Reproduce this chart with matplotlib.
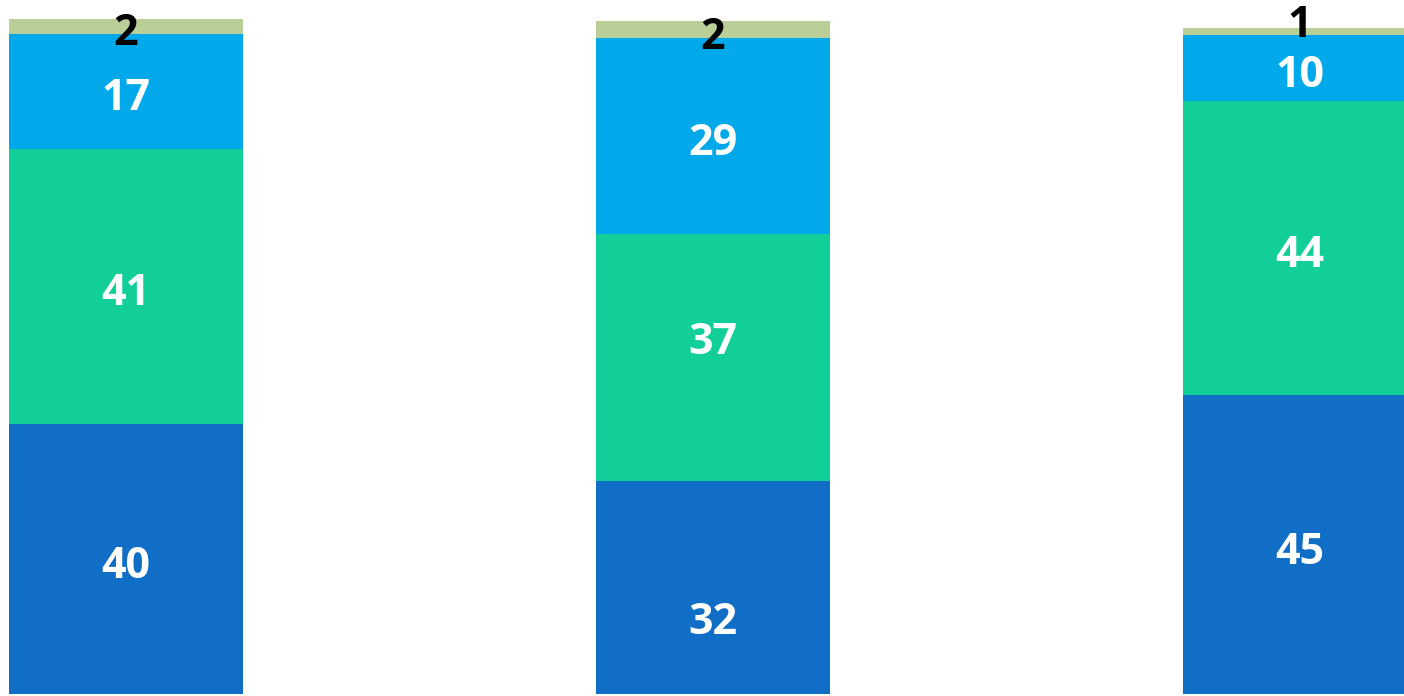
import numpy as np
import matplotlib.pyplot as plt

# Segment values per bar (bottom -> top)
categories = ['A', 'B', 'C']
seg_dark = [40.3, 31.7, 44.6]
seg_green = [40.9, 36.9, 43.7]
seg_light = [17.2, 29.2, 9.9]
seg_khaki = [2.2, 2.4, 1.0]

colors = ['#106EC6', '#12CF9A', '#02A9EA', '#BACF98']
label_colors = ['white', 'white', 'white', 'black']
# the source nudged a few labels off the segment centre
label_nudge = [[0, -4.1, 0], [0, 3.3, 0], [0, 0, 0], [0, 0, 0]]

fig = plt.figure(figsize=(14.04, 6.96), dpi=100)
ax = fig.add_axes([0, 0, 1, 1])

x = np.arange(len(categories))
width = 0.4
bottom = np.zeros(len(categories))
series = [seg_dark, seg_green, seg_light, seg_khaki]
for vals, col, lcol, nudge in zip(series, colors, label_colors, label_nudge):
    vals = np.array(vals)
    ax.bar(x, vals, width, bottom=bottom, color=col, edgecolor='none')
    for xi, b, v, n in zip(x, bottom, vals, nudge):
        ypos = b + v / 2 - 0.4 + n
        if v < 1.5:
            # tiny segment: label pushed up above the bar like in the source
            ypos = b + v + 1.2
        ax.text(xi, ypos, f"{v:.0f}", ha='center', va='center_baseline',
                color=lcol, fontsize=31, fontweight='bold', family='Open Sans')
    bottom += vals

ax.set_xlim(-0.2147, 2.177)
ax.set_ylim(-0.3, 103.4)
ax.axis('off')

plt.savefig('out.png', dpi=100)
plt.close()
